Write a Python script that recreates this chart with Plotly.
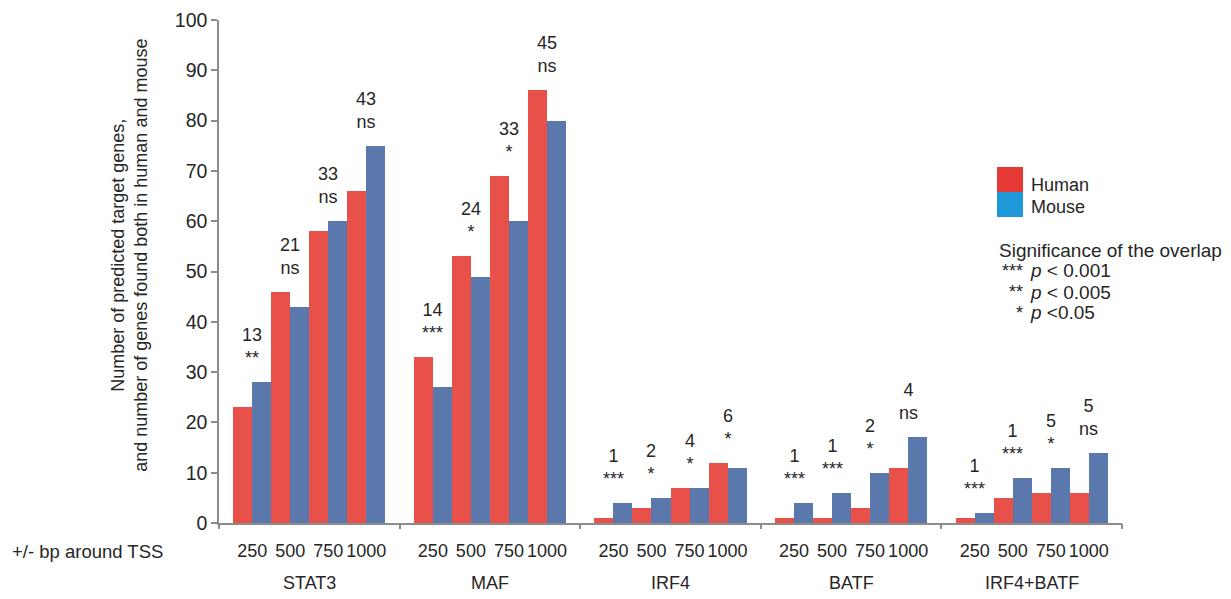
import plotly.graph_objects as go

groups = ["STAT3", "MAF", "IRF4", "BATF", "IRF4+BATF"]
windows = ["250", "500", "750", "1000"]
human = [[23, 46, 58, 66], [33, 53, 69, 86], [1, 3, 7, 12], [1, 1, 3, 11], [1, 5, 6, 6]]
mouse = [[28, 43, 60, 75], [27, 49, 60, 80], [4, 5, 7, 11], [4, 6, 10, 17], [2, 9, 11, 14]]
overlap = [[13, 21, 33, 43], [14, 24, 33, 45], [1, 2, 4, 6], [1, 1, 2, 4], [1, 1, 5, 5]]
sig = [["**", "ns", "ns", "ns"], ["***", "*", "*", "ns"], ["***", "*", "*", "*"],
       ["***", "***", "*", "ns"], ["***", "***", "*", "ns"]]
legend_sig = ["***", "**", "*"]
legend_p = ["<i>p</i> < 0.001", "<i>p</i> < 0.005", "<i>p</i> <0.05"]

FONT = "Arial, Liberation Sans, sans-serif"
TXT = "#262626"
AX = "#8c8c8c"
RED = "#E8504A"
BLUE = "#5B78AD"

# layout of x positions (pair width = 1 unit)
side = 0.375
gw = len(windows) + 2 * side
centers, hv, mv, tt = [], [], [], []
for g in range(len(groups)):
    for w in range(len(windows)):
        centers.append(g * gw + side + w + 0.5)
        hv.append(human[g][w])
        mv.append(mouse[g][w])
        tt.append(windows[w])
xmax = gw * len(groups)
bounds = [g * gw for g in range(len(groups) + 1)]

fig = go.Figure()
fig.add_trace(go.Bar(x=centers, y=hv, name="Human", marker=dict(color=RED, line=dict(width=0)),
                     width=0.5, offset=-0.5, showlegend=False))
fig.add_trace(go.Bar(x=centers, y=mv, name="Mouse", marker=dict(color=BLUE, line=dict(width=0)),
                     width=0.5, offset=0.0, showlegend=False))
# invisible trace on boundary axis
fig.add_trace(go.Scatter(x=bounds, y=[0] * len(bounds), xaxis="x2", mode="markers",
                         marker=dict(opacity=0), showlegend=False, hoverinfo="skip"))


def pann(x, y, text, size, xanchor="left", **kw):
    return dict(x=x, y=y, xref="paper", yref="paper", xanchor=xanchor, yanchor="middle",
                text=text, showarrow=False, font=dict(family=FONT, size=size, color=TXT), **kw)


ann = []
i = 0
for g in range(len(groups)):
    for w in range(len(windows)):
        top = max(human[g][w], mouse[g][w])
        ann.append(dict(x=centers[i], y=top, xref="x", yref="y", xanchor="center", yanchor="bottom",
                        text=f"{overlap[g][w]}<br>{sig[g][w]}", showarrow=False,
                        yshift=12, font=dict(family=FONT, size=18, color=TXT)))
        i += 1
    ann.append(dict(x=g * gw + gw / 2, y=-0.119, xref="x", yref="paper", xanchor="center",
                    yanchor="middle", text=groups[g], showarrow=False,
                    font=dict(family=FONT, size=18, color=TXT)))

ann.append(pann(-0.2315, -0.0557, "+/- bp around TSS", 18.5))
ann.append(pann(-0.0986, 0.533,
                "Number of predicted target genes,<br>and number of genes found both in human and mouse",
                18, xanchor="center", textangle=-90))

# legend
ann.append(pann(0.8975, 0.672, "Human", 18))
ann.append(pann(0.8975, 0.628, "Mouse", 18))
ann.append(pann(0.862, 0.5427, "Significance of the overlap", 19))
rows_y = [0.501, 0.4592, 0.4175]
for s, p, yy in zip(legend_sig, legend_p, rows_y):
    ann.append(pann(0.8926, yy, s, 18, xanchor="right"))
    ann.append(pann(0.8959, yy, p, 19))

shapes = [
    dict(type="rect", xref="paper", yref="paper", x0=0.8616, x1=0.8904, y0=0.658, y1=0.7078,
         fillcolor="#E53935", line=dict(width=0)),
    dict(type="rect", xref="paper", yref="paper", x0=0.8616, x1=0.8904, y0=0.6083, y1=0.658,
         fillcolor="#1E98D8", line=dict(width=0)),
]

fig.update_layout(
    width=1231, height=599,
    margin=dict(l=211, r=117, t=12, b=84),
    paper_bgcolor="white", plot_bgcolor="white",
    barmode="overlay", bargap=0,
    font=dict(family=FONT, color=TXT),
    annotations=ann, shapes=shapes,
    xaxis=dict(range=[0, xmax], tickvals=centers, ticktext=tt, ticks="", automargin=False,
               showline=True, linecolor=AX, linewidth=1.5, showgrid=False, zeroline=False,
               tickfont=dict(family=FONT, size=18, color=TXT), ticklabelstandoff=11,
               fixedrange=True),
    xaxis2=dict(range=[0, xmax], overlaying="x", anchor="y", side="bottom", tickvals=bounds,
                ticks="outside", ticklen=5, tickwidth=1.5, tickcolor=AX, showticklabels=False,
                showline=False, showgrid=False, zeroline=False, automargin=False),
    yaxis=dict(range=[0, 100], tickvals=list(range(0, 101, 10)), ticks="outside", ticklen=6,
               tickwidth=1.5, tickcolor=AX, showline=True, linecolor=AX, linewidth=1.5,
               automargin=False,
               showgrid=False, zeroline=False, tickfont=dict(family=FONT, size=19.5, color=TXT)),
)

fig.write_html("out.html")
